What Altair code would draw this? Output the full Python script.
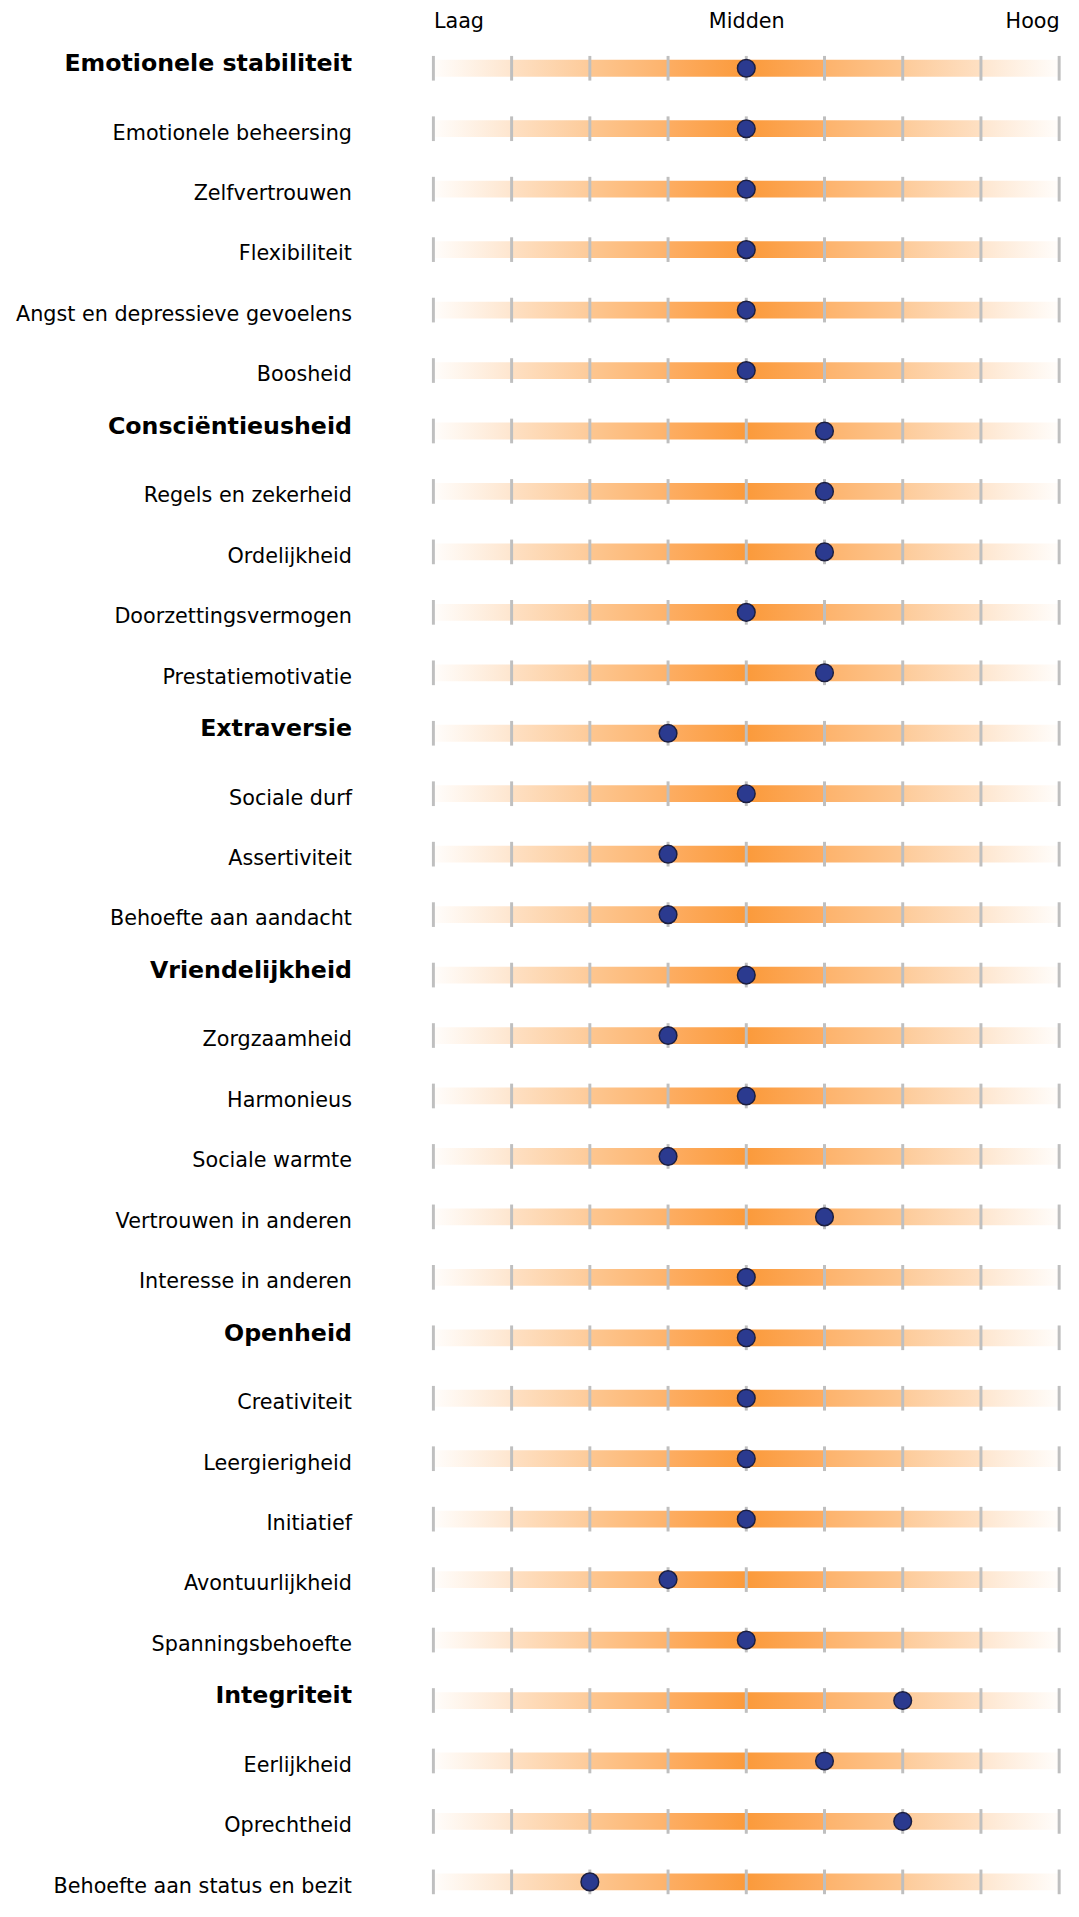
import altair as alt
import pandas as pd

labels = [
    "Emotionele stabiliteit", "Emotionele beheersing", "Zelfvertrouwen", "Flexibiliteit",
    "Angst en depressieve gevoelens", "Boosheid",
    "Consciëntieusheid", "Regels en zekerheid", "Ordelijkheid", "Doorzettingsvermogen",
    "Prestatiemotivatie",
    "Extraversie", "Sociale durf", "Assertiviteit", "Behoefte aan aandacht",
    "Vriendelijkheid", "Zorgzaamheid", "Harmonieus", "Sociale warmte",
    "Vertrouwen in anderen", "Interesse in anderen",
    "Openheid", "Creativiteit", "Leergierigheid", "Initiatief", "Avontuurlijkheid",
    "Spanningsbehoefte",
    "Integriteit", "Eerlijkheid", "Oprechtheid", "Behoefte aan status en bezit",
]
values = [4, 4, 4, 4, 4, 4,
          5, 5, 5, 4, 5,
          3, 4, 3, 3,
          4, 3, 4, 3, 5, 4,
          4, 4, 4, 4, 3, 4,
          6, 5, 6, 2]
headers = ["Emotionele stabiliteit", "Consciëntieusheid", "Extraversie",
           "Vriendelijkheid", "Openheid", "Integriteit"]
scale_ticks = [0, 1, 2, 3, 4, 5, 6, 7, 8]
scale_names = ["Laag", "Midden", "Hoog"]
scale_name_pos = [0, 4, 8]

rows = pd.DataFrame({"label": labels, "value": values,
                     "lo": scale_ticks[0], "hi": scale_ticks[-1]})
ticks = pd.DataFrame([{"label": l, "t": t} for l in labels for t in scale_ticks])

hdr_test = "indexof([" + ",".join("'" + h + "'" for h in headers) + "], datum.value) >= 0"
name_expr = " : ".join(
    f"datum.value == {p} ? '{n}'" for p, n in zip(scale_name_pos[:-1], scale_names[:-1])
) + f" : '{scale_names[-1]}'"

STEP = 61.25
yaxis = alt.Axis(
    title=None, ticks=False, domain=False, grid=False,
    labelPadding=83, labelLimit=500, labelFont="DejaVu Sans", labelColor="#000000",
    labelBaseline="middle",
    labelFontWeight=alt.condition(hdr_test, alt.value("bold"), alt.value("normal")),
    labelFontSize=alt.condition(hdr_test, alt.value(24), alt.value(21)),
    labelOffset=alt.condition(hdr_test, alt.value(-4), alt.value(5)),
)
yenc = alt.Y("label:N", sort=labels,
             scale=alt.Scale(paddingInner=0, paddingOuter=0,
                             range=[0, STEP * len(labels)]),
             axis=yaxis)
xscale = alt.Scale(domain=[scale_ticks[0], scale_ticks[-1]], nice=False, zero=False)
xaxis = alt.Axis(
    orient="top", values=scale_name_pos, labelExpr=name_expr, title=None,
    ticks=False, domain=False, grid=False, labelFlush=True,
    labelFont="DejaVu Sans", labelFontSize=21, labelColor="#000000",
    labelBaseline="alphabetic", labelPadding=11, labelAngle=0,
)

stops = [
    (0.0, "#fffdfb"), (0.124, "#fee6cf"), (0.126, "#fee0c3"),
    (0.249, "#fdcb9a"), (0.251, "#fdc690"),
    (0.374, "#fdb36c"), (0.376, "#fdad62"),
    (0.5, "#fb9a3b"),
    (0.624, "#fdad62"), (0.626, "#fdb36c"),
    (0.749, "#fdc690"), (0.751, "#fdcb9a"),
    (0.874, "#fee0c3"), (0.876, "#fee6cf"), (1.0, "#fffdfb"),
]
grad = alt.Gradient(gradient="linear", x1=0, x2=1, y1=0, y2=0,
                    stops=[alt.GradientStop(offset=o, color=c) for o, c in stops])

bands = alt.Chart(rows).mark_bar(size=17, fill=grad, stroke=None).encode(
    x=alt.X("lo:Q", scale=xscale, axis=xaxis), x2="hi:Q", y=yenc)

tickmarks = alt.Chart(ticks).mark_tick(
    color="#bfbfbf", thickness=3, size=25, orient="vertical", opacity=1).encode(
    x=alt.X("t:Q", scale=xscale, axis=xaxis), y=yenc)

dots = alt.Chart(rows).mark_point(
    shape="circle", filled=True, size=320, fill="#2b3a8f", stroke="#1c1f40",
    strokeWidth=1.5, opacity=1).encode(
    x=alt.X("value:Q", scale=xscale, axis=xaxis), y=yenc)

chart = alt.layer(bands, tickmarks, dots).properties(
    width=634, height=1870,
    autosize=alt.AutoSizeParams(type="none"),
    padding={"left": 431, "top": 18, "right": 12, "bottom": 0},
    background="#ffffff",
).configure_view(stroke=None)

chart.save("out.html", embed_options={"renderer": "svg", "actions": False})
